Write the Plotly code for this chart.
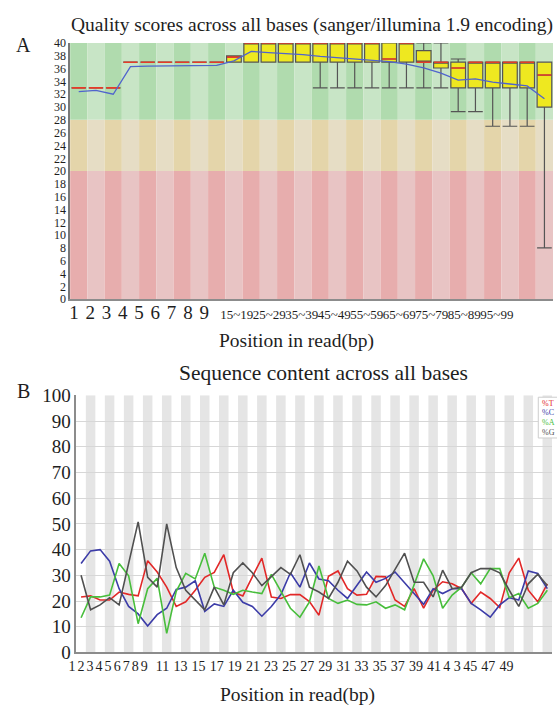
import plotly.graph_objects as go

W, H = 557, 712
SERIF = "Liberation Serif"

# ---------------- Panel A : quality scores ----------------
qual_categories = ["1", "2", "3", "4", "5", "6", "7", "8", "9",
                   "10~14", "15~19", "20~24", "25~29", "30~34", "35~39",
                   "40~44", "45~49", "50~54", "55~59", "60~64", "65~69",
                   "70~74", "75~79", "80~84", "85~89", "90~94", "95~99",
                   "100~101"]
qual_mean = [32.4, 32.6, 32.0, 36.3, 36.4, 36.4, 36.4, 36.4, 36.5, 37.2,
             38.7, 38.5, 38.4, 38.2, 37.9, 37.7, 37.5, 37.3, 37.1, 36.7,
             36.1, 35.3, 34.2, 34.4, 33.9, 33.6, 33.3, 31.3]
qual_median = [33, 33, 33, 37, 37, 37, 37, 37, 37, 37.8,
               40, 40, 40, 40, 40, 40, 40, 40, 37.5, 40,
               37, 37, 36.1, 37, 37, 37, 37, 35]
qual_q1 = [33, 33, 33, 37, 37, 37, 37, 37, 37, 37,
           37, 37, 37, 37, 37, 37, 37, 37, 37, 37,
           37, 36.1, 33, 33, 33, 33, 33, 30]
qual_q3 = [33, 33, 33, 37, 37, 37, 37, 37, 37, 38,
           40, 40, 40, 40, 40, 40, 40, 40, 40, 40,
           38.8, 37, 37, 37, 37, 37, 37, 37]
qual_lower = [33, 33, 33, 37, 37, 37, 37, 37, 37, 37,
              37, 37, 37, 37, 33, 33, 33, 33, 33, 33,
              33, 33, 29.3, 29.3, 27, 27, 27, 8]
qual_upper = [33, 33, 33, 37, 37, 37, 37, 37, 37, 38,
              40, 40, 40, 40, 40, 40, 40, 40, 40, 40,
              40, 40, 37.5, 37, 37, 37, 37, 37]
qual_tick_index = [0, 1, 2, 3, 4, 5, 6, 7, 8, 10, 12, 14, 16, 18, 20, 22, 24, 26]

# quality zones: (low, high, dark stripe, light stripe)
quality_zones = [
    (0, 20, "rgb(231,173,173)", "rgb(232,196,196)"),
    (20, 28, "rgb(228,213,170)", "rgb(230,221,197)"),
    (28, 40, "rgb(176,219,174)", "rgb(200,229,198)"),
]

# ---------------- Panel B : sequence content ----------------
seq_positions = list(range(1, 51))
pct_T = [21.6, 22, 20.4, 20.4, 23.5, 22.6, 22, 35.7, 31.3, 25.4,
         17.9, 19.7, 24.2, 29.2, 31.1, 38, 23.5, 22, 29.4, 36.7,
         21.6, 21, 22.5, 22.5, 19.8, 14.5, 29.6, 31.7, 24.8, 22.3,
         22.6, 29.6, 29.4, 20.4, 17.9, 24.8, 17.2, 24.2, 27.5, 26.7,
         24.8, 19.1, 23.5, 21, 17.5, 31, 36.7, 24.2, 19.7, 26.7]
pct_C = [34.6, 39.5, 40, 35.5, 24.8, 17.9, 15, 10.3, 14.7, 17.2,
         24.5, 25.4, 27.9, 16, 18.9, 17.9, 24.2, 19.5, 17.9, 14.1,
         17.9, 22.5, 31, 25.4, 34.8, 28.6, 27.9, 24.2, 21, 26,
         31.3, 27.3, 28.8, 31.3, 27.3, 22.9, 18.7, 24.8, 22.9, 24.8,
         24.8, 19.1, 16.6, 13.7, 18.5, 21.3, 20.4, 31.7, 30.7, 24.8]
pct_A = [13.5, 21.6, 21.6, 22.3, 34.6, 29.8, 11.2, 24.8, 28.8, 7.4,
         23.8, 30.8, 28.6, 38.6, 25.4, 24.2, 22.6, 24.2, 23.5, 22.9,
         30.4, 24, 17.2, 13.7, 19.7, 33.6, 21, 19.1, 20.4, 18.7,
         18.5, 19.7, 17.2, 18.5, 16.6, 26.3, 36.4, 29.8, 17.2, 22.3,
         25.4, 31, 26.7, 32.6, 32.6, 21.3, 22.9, 17.2, 19.1, 24.2]
pct_G = [30, 16.6, 18.5, 21.3, 18.5, 34.7, 50.8, 29.2, 25.4, 50,
         33, 24.2, 20.4, 16.6, 25.4, 18.5, 31, 34.8, 31, 26,
         29.5, 33, 30.4, 38, 25.4, 23.5, 21, 27.3, 35.5, 31.7,
         25.4, 21.6, 26, 32.3, 38.6, 27.3, 27.3, 21.6, 32, 24.8,
         25.4, 31, 32.6, 32.6, 31, 24.2, 17.9, 26.7, 30.4, 26]
seq_tick_numbers = [1, 2, 3, 4, 5, 6, 7, 8, 9, 11, 13, 15, 17, 19, 21, 23,
                    25, 27, 29, 31, 33, 35, 37, 39, 41, 43, 45, 47, 49]
seq_tick_labels = ["1", "2", "3", "4", "5", "6", "7", "8", "9", "11", "13",
                   "15", "17", "19", "21", "23", "25", "27", "29", "31", "33",
                   "35", "37", "39", "41", "4 3", "45", "47", "49"]
base_names = ["%T", "%C", "%A", "%G"]
base_colors = ["rgb(226,40,40)", "rgb(60,60,168)", "rgb(72,190,60)", "rgb(80,80,80)"]


def px(x):
    return x / W


def py(y):
    return 1 - y / H


fig = go.Figure()

# ---- Panel A background stripes
shapes = []
n_cols = len(qual_categories)
for c in range(n_cols):
    for lo, hi, dark, light in quality_zones:
        shapes.append(dict(type="rect", xref="x", yref="y", x0=c - 0.5, x1=c + 0.5,
                           y0=lo, y1=hi, fillcolor=dark if c % 2 == 0 else light,
                           line=dict(width=0), layer="below"))

# ---- Panel A boxes
cols = list(range(n_cols))
fig.add_trace(go.Box(
    x=cols, q1=qual_q1, median=qual_median, q3=qual_q3,
    lowerfence=qual_lower, upperfence=qual_upper,
    width=0.85, whiskerwidth=1, fillcolor="rgb(238,232,32)",
    line=dict(color="rgb(85,85,85)", width=1.2), boxpoints=False,
    hoverinfo="skip", showlegend=False, xaxis="x", yaxis="y"))

# red median segments
half = 0.4
mx, my = [], []
for c, m in zip(cols, qual_median):
    mx += [c - half, c + half, None]
    my += [m, m, None]
fig.add_trace(go.Scatter(x=mx, y=my, mode="lines", line=dict(color="rgb(230,60,40)", width=1.6),
                         hoverinfo="skip", showlegend=False, xaxis="x", yaxis="y"))
# blue mean line
fig.add_trace(go.Scatter(x=cols, y=qual_mean, mode="lines", line=dict(color="rgb(80,100,205)", width=1.3),
                         hoverinfo="skip", showlegend=False, xaxis="x", yaxis="y"))

# ---- Panel B stripes
for n in seq_positions:
    if n % 2 == 0:
        shapes.append(dict(type="rect", xref="x2", yref="y2", x0=n - 0.5, x1=n + 0.5,
                           y0=0, y1=100, fillcolor="rgb(229,229,229)",
                           line=dict(width=0), layer="below"))

for name, vals, col in zip(base_names, [pct_T, pct_C, pct_A, pct_G], base_colors):
    fig.add_trace(go.Scatter(x=seq_positions, y=vals, mode="lines", name=name,
                             line=dict(color=col, width=1.6), hoverinfo="skip",
                             showlegend=False, xaxis="x2", yaxis="y2"))

# small legend box at the top-right corner of panel B
shapes.append(dict(type="rect", xref="paper", yref="paper", x0=px(538), x1=px(562),
                   y0=py(441), y1=py(399), fillcolor="white",
                   line=dict(color="rgb(205,205,205)", width=1), layer="above"))

annotations = []
for i, (name, col) in enumerate(zip(base_names, base_colors)):
    annotations.append(dict(text=name, x=px(540), y=py(405 + 10 * i), xref="paper", yref="paper",
                            xanchor="left", yanchor="middle", showarrow=False,
                            font=dict(family=SERIF, size=8, color=col)))

# tick positions: the reference's labels sit on a slightly tighter pitch than the columns
top_tickvals = [(4 + 16.5 * k) / 17.5 - 0.5 for k in qual_tick_index]
top_ticktext = []
for k in qual_tick_index:
    lab = qual_categories[k]
    if "~" in lab:
        lab = '<span style="font-size:13px">' + lab + "</span>"
    top_ticktext.append(lab)
SEQ_SHIFT = -12
seq_tickvals = [0.5 + (65 + 9.19 * (n - 1) - SEQ_SHIFT - 69.3) / 9.66 for n in seq_tick_numbers]


def text(s, x, y, size, anchor="center"):
    annotations.append(dict(text=s, x=px(x), y=py(y), xref="paper", yref="paper",
                            xanchor=anchor, yanchor="middle", showarrow=False,
                            font=dict(family=SERIF, size=size, color="rgb(30,30,30)")))


text("Quality scores across all bases (sanger/illumina 1.9 encoding)", 308, 15, 19.5)
text("A", 16, 36, 20)
text("Position in read(bp)", 293, 341, 19.5)
text("Sequence content across all bases", 320, 374, 21.5)
text("B", 16, 393, 20)
text("Position in read(bp)", 294, 706, 19.5)

fig.update_layout(
    width=W, height=H, autosize=False,
    margin=dict(l=0, r=0, t=0, b=0),
    paper_bgcolor="white", plot_bgcolor="white",
    showlegend=False,
    shapes=shapes, annotations=annotations,
    xaxis=dict(domain=[px(63), px(553)], range=[-0.5, n_cols - 0.5],
               tickmode="array", tickvals=top_tickvals, ticktext=top_ticktext,
               tickangle=0, ticklabelstandoff=-5,
               showgrid=False, zeroline=False, showline=True,
               linecolor="rgb(140,140,140)", linewidth=1.5, ticks="",
               tickfont=dict(family=SERIF, size=19, color="rgb(30,30,30)"), anchor="y"),
    yaxis=dict(domain=[py(298), py(34)], range=[0, 40], dtick=2, tick0=0,
               showgrid=False, zeroline=False, showline=True,
               linecolor="rgb(120,120,120)", linewidth=1.5, ticks="",
               tickfont=dict(family=SERIF, size=12, color="rgb(30,30,30)"), anchor="x"),
    xaxis2=dict(domain=[px(69.3), px(552)], range=[0.5, 50.5],
                tickmode="array", tickvals=seq_tickvals, ticktext=seq_tick_labels,
                tickangle=0, ticklabelshift=SEQ_SHIFT,
                showgrid=False, zeroline=False, showline=True,
                linecolor="rgb(140,140,140)", linewidth=1.5, ticks="",
                tickfont=dict(family=SERIF, size=14, color="rgb(30,30,30)"), anchor="y2"),
    yaxis2=dict(domain=[py(662), py(397)], range=[0, 100], dtick=10, tick0=0,
                showgrid=True, gridcolor="rgb(215,215,215)", gridwidth=1.2,
                zeroline=False, showline=True,
                linecolor="rgb(140,140,140)", linewidth=1.5, ticks="",
                tickfont=dict(family=SERIF, size=19, color="rgb(30,30,30)"), anchor="x2"),
)

fig.write_html("out.html")
